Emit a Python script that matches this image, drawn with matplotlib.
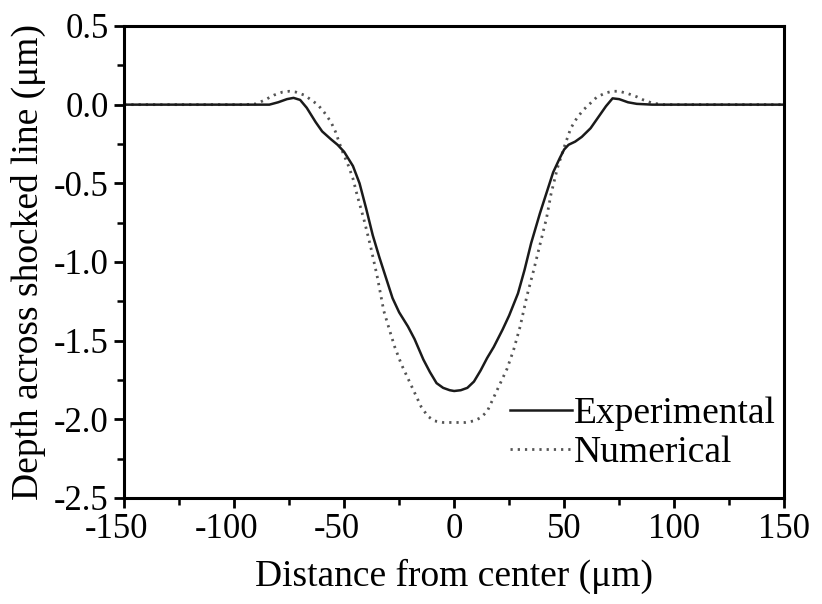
import matplotlib
matplotlib.use('Agg')
import matplotlib.pyplot as plt
import matplotlib.transforms as mtransforms
from matplotlib.ticker import MultipleLocator

plt.rcParams['font.family'] = 'Liberation Serif'
plt.rcParams['axes.unicode_minus'] = False
# 라벨은 하이픈 그대로

# 실험값 (실선)
exp_x = [-150, -100, -90, -84, -80, -76, -73, -70, -67, -63, -60, -56, -53, -50, -46, -43,
         -40, -37, -34, -31, -28, -25, -21, -18, -14, -11, -8, -5, -2, 0, 3, 6, 9, 12, 15,
         18, 22, 25, 29, 32, 35, 39, 42, 45, 48, 50, 52, 55, 58, 62, 65, 69, 72, 75, 79, 83,
         90, 100, 150]
exp_y = [0, 0, 0, 0.0, 0.015, 0.035, 0.043, 0.03, -0.02, -0.11, -0.17, -0.22, -0.255, -0.30,
         -0.39, -0.50, -0.66, -0.83, -0.97, -1.10, -1.23, -1.32, -1.41, -1.49, -1.62, -1.70,
         -1.77, -1.80, -1.815, -1.82, -1.815, -1.80, -1.76, -1.69, -1.61, -1.54, -1.43,
         -1.34, -1.20, -1.05, -0.88, -0.69, -0.56, -0.43, -0.34, -0.285, -0.255, -0.235,
         -0.205, -0.15, -0.09, -0.01, 0.04, 0.035, 0.015, 0.005, 0, 0, 0]

# 계산값 (점선)
num_x = [-150, -95, -90, -86, -82, -78, -75, -72, -68, -65, -62, -59, -56, -54, -51, -48,
         -46, -44, -41, -38, -35, -32, -29, -27, -24, -21, -18, -15, -12, -9, -5, 0, 5, 9,
         12, 15, 18, 21, 24, 27, 30, 33, 36, 39, 42, 44, 47, 50, 53, 56, 59, 62, 65, 69,
         72, 75, 79, 83, 86, 90, 95, 150]
num_y = [0, 0, 0.005, 0.03, 0.06, 0.08, 0.085, 0.08, 0.06, 0.03, 0.0, -0.05, -0.11, -0.17,
         -0.29, -0.39, -0.47, -0.58, -0.73, -0.90, -1.09, -1.31, -1.45, -1.54, -1.65, -1.74,
         -1.83, -1.92, -1.98, -2.01, -2.02, -2.02, -2.02, -2.01, -1.99, -1.95, -1.86, -1.77,
         -1.68, -1.56, -1.41, -1.22, -1.06, -0.89, -0.72, -0.57, -0.40, -0.27, -0.15,
         -0.08, -0.03, 0.01, 0.05, 0.075, 0.085, 0.085, 0.07, 0.05, 0.03, 0.01, 0.0, 0]

xticks = [-150, -100, -50, 0, 50, 100, 150]

fig = plt.figure(figsize=(8.22, 6.04), dpi=100)
ax = fig.add_axes([0.151, 0.1755, 0.803, 0.7815])

ax.plot(num_x, num_y, color='#555555', lw=2, linestyle=(0, (0.8, 1.8)), label='Numerical')
ax.plot(exp_x, exp_y, color='#1a1a1a', lw=1.8, label='Experimental')

ax.set_xlim(-150, 150)
ax.set_ylim(-2.5, 0.5)
ax.set_xticks(xticks)
ax.set_xticklabels([str(v) for v in xticks])
ax.xaxis.set_minor_locator(MultipleLocator(25))
ax.yaxis.set_major_locator(MultipleLocator(0.5))
ax.yaxis.set_minor_locator(MultipleLocator(0.25))
ax.yaxis.set_major_formatter(plt.FormatStrFormatter('%.1f'))

for s in ax.spines.values():
    s.set_linewidth(2.2)
ax.tick_params(which='major', direction='out', length=7, width=2, labelsize=25, pad=4)
ax.tick_params(which='minor', direction='out', length=5, width=1.8)

# 마이너스 부호는 숫자 밖으로 빼서 정렬 (원본처럼)
for v, lab in zip(xticks, ax.get_xticklabels()):
    if v < 0:
        lab.set_transform(lab.get_transform() +
                          mtransforms.ScaledTranslation(-0.075, 0, fig.dpi_scale_trans))

ax.set_xlabel('Distance from center (μm)', fontsize=27, labelpad=9)
ax.set_ylabel('Depth across shocked line (μm)', fontsize=27, labelpad=6)

h, l = ax.get_legend_handles_labels()
leg = ax.legend(h[::-1], l[::-1], loc='upper left', bbox_to_anchor=(0.585, 0.215),
                frameon=False, fontsize=27, handlelength=1.65, handletextpad=0.05,
                labelspacing=0.12, borderpad=0, borderaxespad=0)

plt.savefig('out.png', dpi=100)
